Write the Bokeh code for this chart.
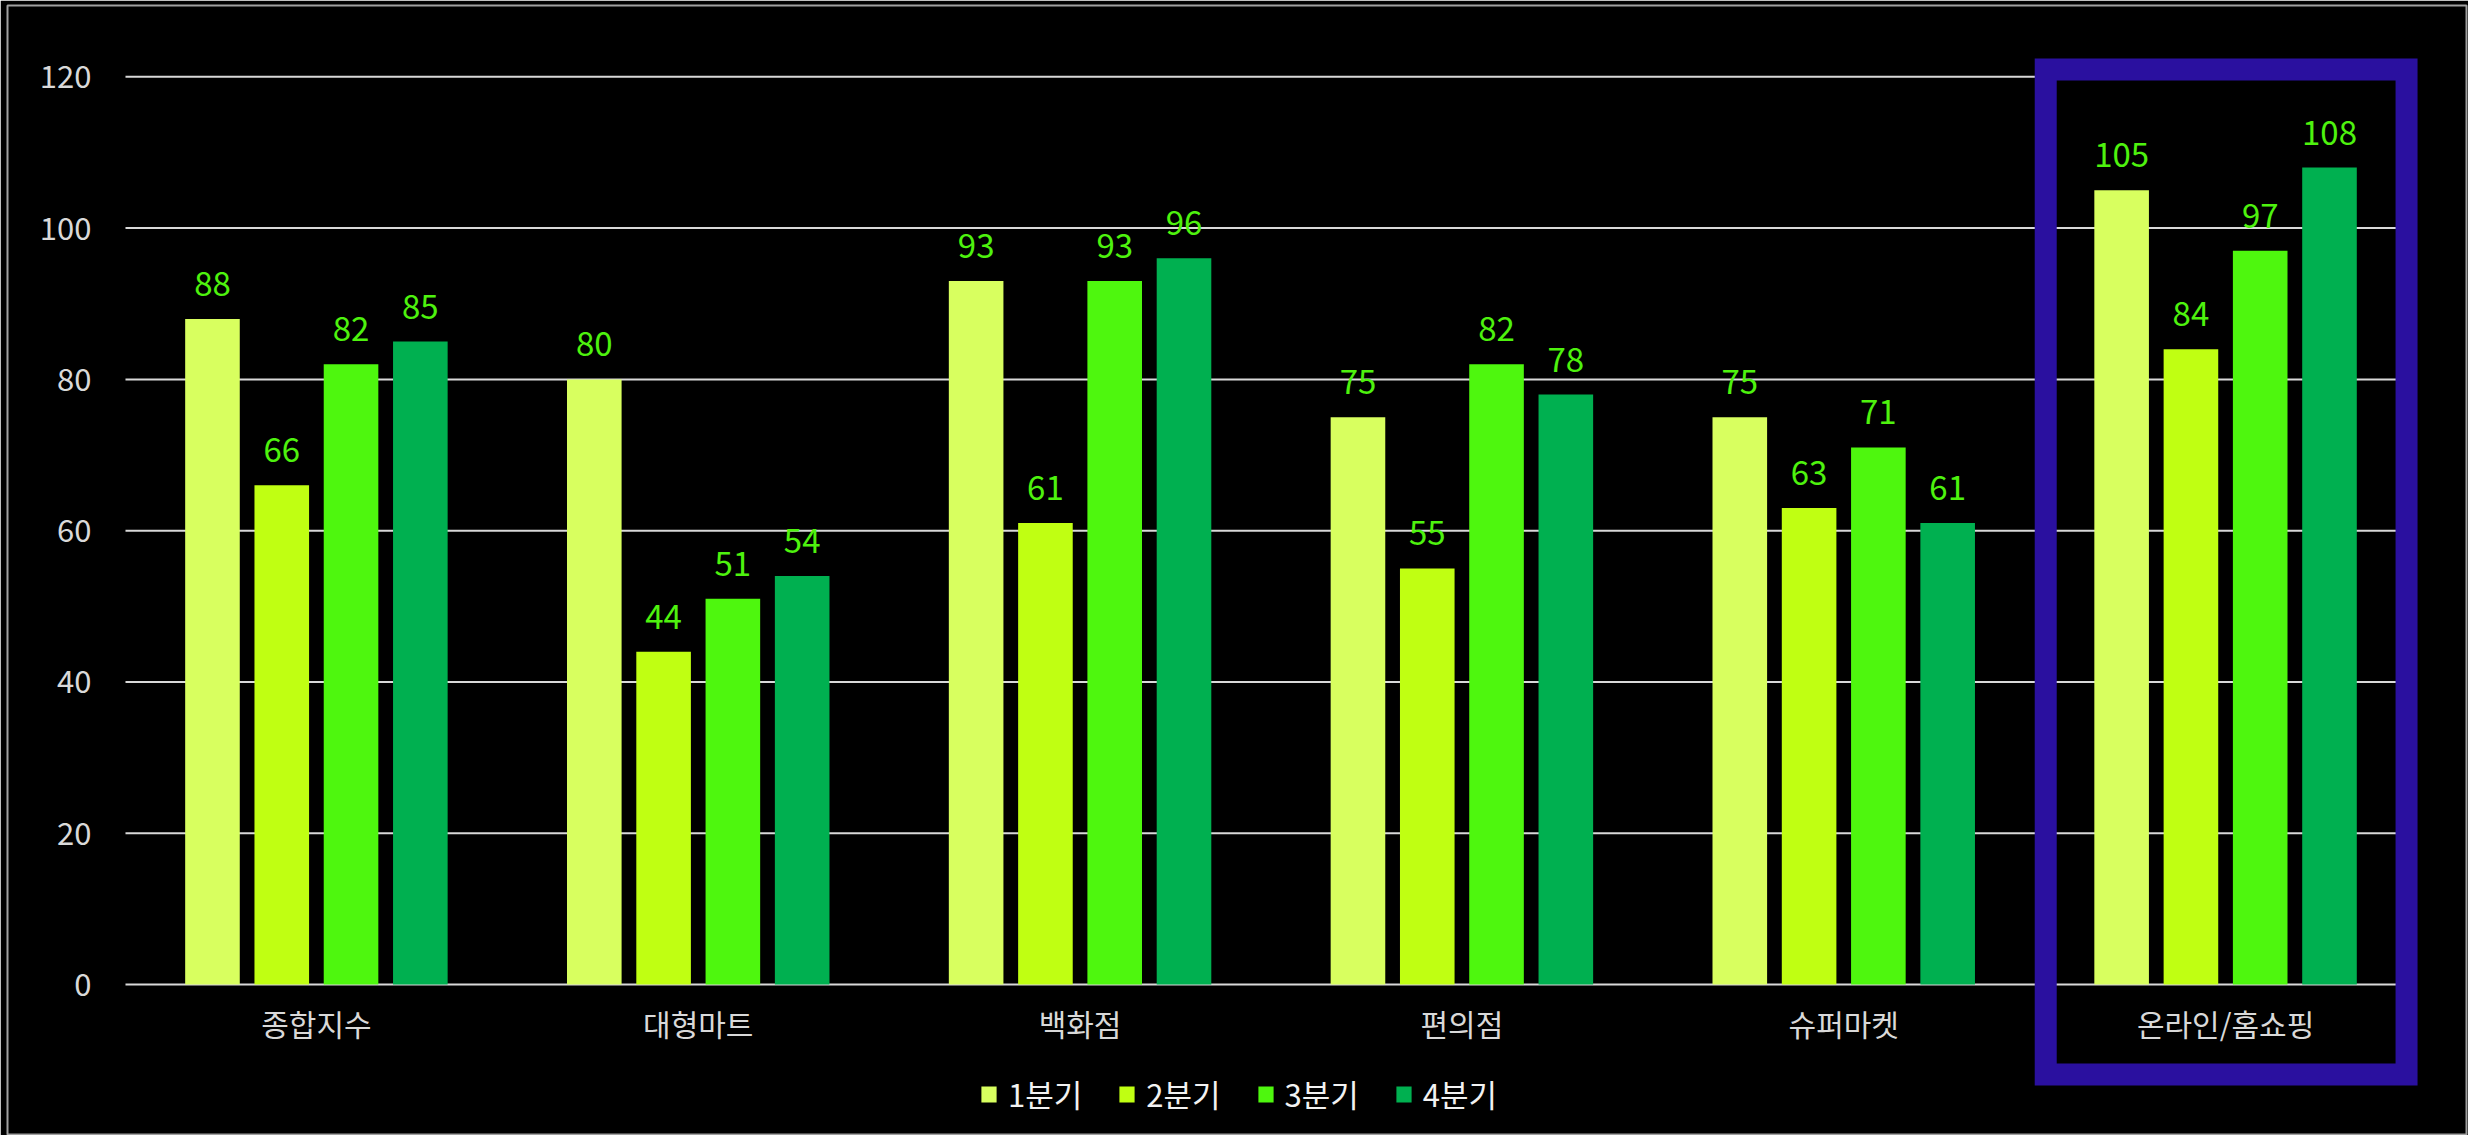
from bokeh.plotting import figure
from bokeh.models import (Range1d, FixedTicker, ColumnDataSource,
                          BoxAnnotation, Legend, LegendItem)
from bokeh.transform import dodge
from bokeh.core.properties import value
from bokeh.embed import file_html
from bokeh.resources import INLINE

# ---- data ----
categories = ["종합지수", "대형마트", "백화점", "편의점", "슈퍼마켓", "온라인/홈쇼핑"]
q1 = [88, 80, 93, 75, 75, 105]
q2 = [66, 44, 61, 55, 63, 84]
q3 = [82, 51, 93, 82, 71, 97]
q4 = [85, 54, 96, 78, 61, 108]
series_names = ["1분기", "2분기", "3분기", "4분기"]
y_ticks = [0, 20, 40, 60, 80, 100, 120]
highlight_category = "온라인/홈쇼핑"

# ---- styles ----
colors = ["#d8ff5f", "#c0ff12", "#4ef70e", "#00b050"]
label_color = "#4ef20e"
offsets = [-0.2722, -0.0907, 0.0907, 0.2722]
bar_width = 0.143
FONT = "Noto Sans CJK KR"
n = len(categories)
xpos = [i + 0.5 for i in range(n)]  # category slot centres on the numeric axis

source = ColumnDataSource(data=dict(
    xpos=xpos, q1=q1, q2=q2, q3=q3, q4=q4,
    l1=[str(v) for v in q1], l2=[str(v) for v in q2],
    l3=[str(v) for v in q3], l4=[str(v) for v in q4],
))

p = figure(x_range=Range1d(-0.309, n + 0.131), y_range=Range1d(-19.96, 129.43),
           width=2468, height=1135, output_backend="svg", toolbar_location=None,
           min_border_left=7, min_border_right=2, min_border_top=5, min_border_bottom=0)
p.background_fill_color = "black"
p.border_fill_color = "black"
p.outline_line_color = "#a0a0a0"
p.outline_line_width = 2

p.xgrid.grid_line_color = None
p.ygrid.grid_line_color = None
# horizontal gridlines spanning the category area only
p.segment(x0=0, x1=n, y0=y_ticks, y1=y_ticks, line_color="#d9d9d9", line_width=2)

p.yaxis.ticker = FixedTicker(ticks=y_ticks)
p.yaxis.fixed_location = 0
p.xaxis.ticker = FixedTicker(ticks=xpos)
p.xaxis.major_label_overrides = {x: c for x, c in zip(xpos, categories)}
p.xaxis.fixed_location = 0

for ax in (p.xaxis[0], p.yaxis[0]):
    ax.axis_line_color = None
    ax.major_tick_line_color = None
    ax.minor_tick_line_color = None
    ax.major_label_text_font = FONT
    ax.major_label_text_font_size = "30px"
    ax.major_label_text_color = "#d9d9d9"
p.yaxis.major_label_text_font_size = "31px"
p.yaxis.major_label_standoff = 28
p.xaxis.major_label_standoff = 10

fields = ["q1", "q2", "q3", "q4"]
lfields = ["l1", "l2", "l3", "l4"]
items = []
for i in range(4):
    r = p.vbar(x=dodge("xpos", offsets[i]), top=fields[i], width=bar_width,
               source=source, fill_color=colors[i], line_color=None)
    items.append(LegendItem(label=series_names[i], renderers=[r]))
    p.text(x=dodge("xpos", offsets[i]), y=fields[i], text=lfields[i],
           source=source, text_align="center", text_baseline="alphabetic",
           y_offset=-35, text_color=label_color, text_font=value(FONT), text_font_size="33px")

# highlight box around the last category
hi = categories.index(highlight_category)
box = BoxAnnotation(left=hi + 0.029, right=hi + 0.974, top=120.97, bottom=-11.9,
                    fill_alpha=0, fill_color=None, line_color="#2a109f", line_alpha=1.0,
                    line_width=22, line_join="miter", level="overlay")
p.add_layout(box)

legend = Legend(items=items, orientation="horizontal", location=(972, 19),
                glyph_width=19, glyph_height=20, label_standoff=10, spacing=35,
                label_text_font=FONT, label_text_font_size="31px", label_text_color="#f2f2f2",
                background_fill_alpha=0, border_line_color=None, padding=0, margin=0)
p.add_layout(legend, "center")

open("out.html", "w").write(file_html(p, INLINE))
